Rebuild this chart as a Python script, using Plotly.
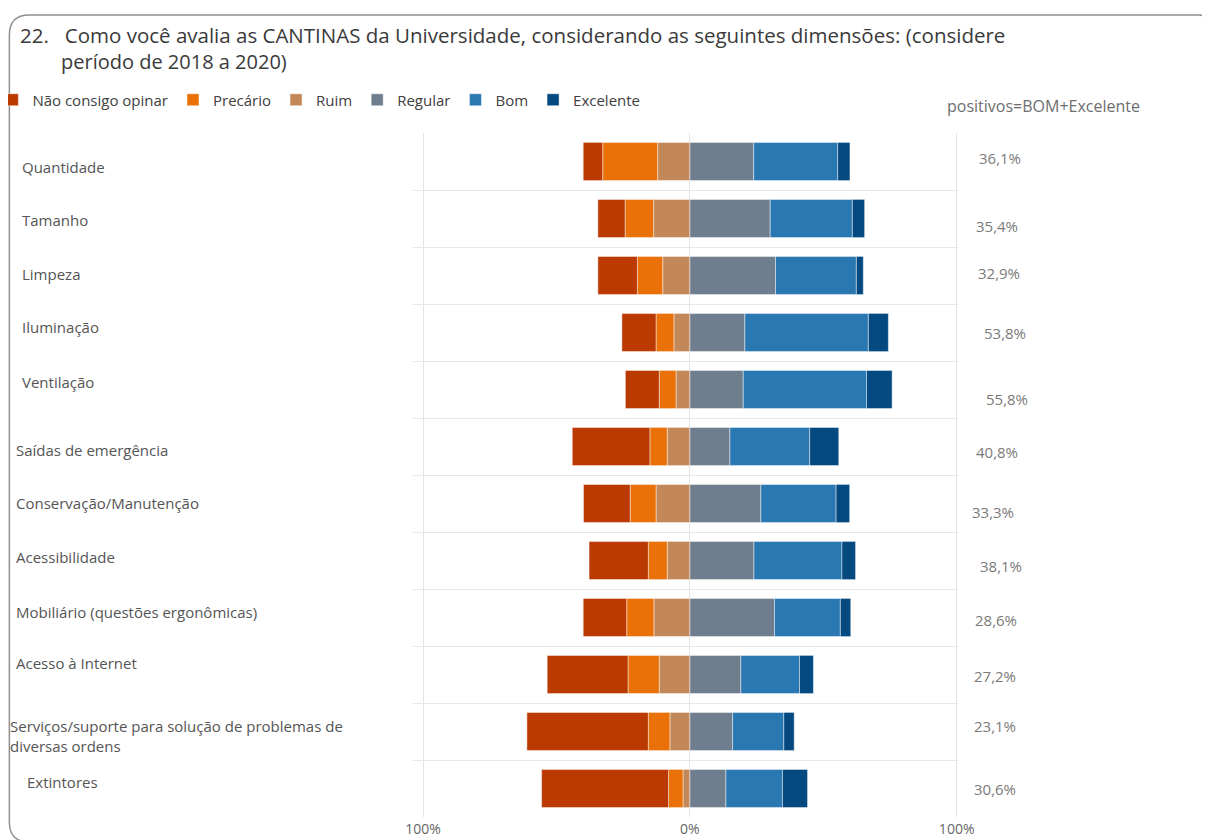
import textwrap
import plotly.graph_objects as go

# ---------------- data ----------------
categories = [
    "Quantidade", "Tamanho", "Limpeza", "Iluminação", "Ventilação",
    "Saídas de emergência", "Conservação/Manutenção", "Acessibilidade",
    "Mobiliário (questões ergonômicas)", "Acesso à Internet",
    "Serviços/suporte para solução de problemas de diversas ordens",
    "Extintores",
]
nao_consigo_opinar = [7.3, 10.2, 14.8, 12.8, 12.7, 29.1, 17.5, 22.2, 16.3, 30.3, 45.5, 47.6]
precario = [20.6, 10.7, 9.5, 6.7, 6.3, 6.5, 9.7, 7.1, 10.2, 11.7, 8.1, 5.4]
ruim = [12.1, 13.6, 10.2, 6.0, 5.2, 8.5, 12.7, 8.5, 13.5, 11.5, 7.5, 2.6]
regular = [23.9, 30.1, 32.1, 20.6, 20.0, 15.0, 26.6, 24.0, 31.7, 19.1, 16.0, 13.5]
bom = [31.5, 30.8, 30.3, 46.3, 46.2, 29.9, 28.2, 33.0, 24.7, 22.0, 19.2, 21.2]
excelente = [4.6, 4.6, 2.6, 7.5, 9.6, 10.9, 5.1, 5.1, 3.9, 5.2, 3.9, 9.4]
positivos = [36.1, 35.4, 32.9, 53.8, 55.8, 40.8, 33.3, 38.1, 28.6, 27.2, 23.1, 30.6]
tick_vals = [-100, 0, 100]
tick_text = ["100%", "0%", "100%"]

# ---------------- styles / layout ----------------
VW, VH = 1210, 840          # browser viewport
OFF = 8                     # default page margin around the figure
W, H = VW - OFF, VH - OFF   # figure size
PL, PR, PT, PB = 413, 957 + 1.5, 133, 817   # plot area edges in viewport pixels
L, R, T, B = PL - OFF, VW - PR, PT - OFF, VH - PB
XR = [-103.8, 100.5]
PW = PR - PL
PH = PB - PT
FONT = "Open Sans"

colors = {
    "Não consigo opinar": "#BA3A02",
    "Precário": "#EA7108",
    "Ruim": "#C38859",
    "Regular": "#6F7E8E",
    "Bom": "#2A78B1",
    "Excelente": "#04497F",
}

# per-row fine placement of the text (viewport pixels; + = right / down)
label_x = [20, 20, 20, 20, 20, 14, 14, 14, 14, 14, 8, 25]
label_dy = [5, 1.5, -2, -5.5, -7.5, 3.5, -0.5, -4, -6, -11.5, 4.5, -6.5]
pct_x = [978, 975, 977, 983, 985, 975, 971, 979, 974, 973, 973, 973]
pct_dy = [-3.5, 7.5, -2.5, 0.5, 9.5, 5.5, 8.5, 5.5, 2.5, 1.5, -5.5, 0.5]


def px_x(px):
    return (px - PL) / PW


def px_y(py):
    return (PB - py) / PH


fig = go.Figure()

bar_line = dict(width=1, color="rgba(255,255,255,0.45)")

negative = [("Ruim", ruim, 3), ("Precário", precario, 2), ("Não consigo opinar", nao_consigo_opinar, 1)]
positive = [("Regular", regular, 4), ("Bom", bom, 5), ("Excelente", excelente, 6)]

for name, vals, rank in negative:
    fig.add_trace(go.Bar(
        y=categories, x=[-v for v in vals], orientation="h", name=name,
        marker=dict(color=colors[name], line=bar_line), legendrank=rank,
        customdata=vals, hovertemplate="%{y}<br>" + name + ": %{customdata:.1f}%<extra></extra>",
    ))
for name, vals, rank in positive:
    fig.add_trace(go.Bar(
        y=categories, x=vals, orientation="h", name=name,
        marker=dict(color=colors[name], line=bar_line), legendrank=rank,
        hovertemplate="%{y}<br>" + name + ": %{x:.1f}%<extra></extra>",
    ))

annotations = []
for i, cat in enumerate(categories):
    annotations.append(dict(
        xref="paper", yref="y", x=px_x(label_x[i]), y=cat, xanchor="left", yanchor="middle",
        text="<br>".join(textwrap.wrap(cat, 47)), align="left", showarrow=False,
        yshift=-label_dy[i], font=dict(family=FONT, size=15, color="#555555"),
    ))
    annotations.append(dict(
        xref="paper", yref="y", x=px_x(pct_x[i]), y=cat, xanchor="left", yanchor="middle",
        text=f"{positivos[i]:.1f}%".replace(".", ","), showarrow=False,
        yshift=-pct_dy[i], font=dict(family=FONT, size=15, color="#7A7A7A"),
    ))

annotations.append(dict(
    xref="paper", yref="paper", x=px_x(945), y=px_y(106), xanchor="left", yanchor="middle",
    text="positivos=BOM+Excelente", showarrow=False,
    font=dict(family=FONT, size=16, color="#6E6E6E"),
))
annotations.append(dict(
    xref="paper", yref="paper", x=px_x(59), y=px_y(62), xanchor="left", yanchor="middle",
    text="período de 2018 a 2020)", showarrow=False,
    font=dict(family=FONT, size=20, color="#3A3A3A"),
))

# frame with rounded corners (viewport pixel coords converted to paper)
pts = [
    ("M", [(29, 842)]), ("Q", [(9, 842), (9, 822)]), ("L", [(9, 35)]),
    ("Q", [(9, 15), (29, 15)]), ("L", [(1200, 15)]), ("Q", [(1206, 15), (1206, 21)]),
]
path = " ".join(cmd + " " + " ".join(f"{px_x(a):.5f},{px_y(b):.5f}" for a, b in p) for cmd, p in pts)

fig.update_layout(
    width=W, height=H, autosize=False,
    margin=dict(l=L, r=R, t=T, b=B, autoexpand=False),
    barmode="relative", bargap=0.33,
    plot_bgcolor="white", paper_bgcolor="white",
    font=dict(family=FONT, color="#404040"),
    title=dict(
        text="22.&nbsp;&nbsp;&nbsp;Como você avalia as CANTINAS da Universidade, considerando as seguintes dimensões: (considere",
        x=(20 - OFF) / W, xref="container", xanchor="left",
        y=1 - (36 - OFF) / H, yref="container", yanchor="middle",
        font=dict(family=FONT, size=20.5, color="#3A3A3A"),
    ),
    legend=dict(
        orientation="h", x=px_x(-8), y=px_y(100), xanchor="left", yanchor="middle",
        font=dict(family=FONT, size=15, color="#404040"), traceorder="normal",
        itemwidth=30, bgcolor="rgba(0,0,0,0)",
    ),
    xaxis=dict(
        range=XR, tickvals=tick_vals, ticktext=tick_text, showgrid=True,
        gridcolor="#E4E4E4", gridwidth=1, zeroline=True, zerolinecolor="#E4E4E4",
        zerolinewidth=1, ticks="", tickfont=dict(family=FONT, size=14, color="#666666"),
        ticklabelstandoff=2, fixedrange=True,
    ),
    yaxis=dict(
        type="category", categoryorder="array", categoryarray=categories,
        range=[len(categories) - 0.5, -0.5], tickson="boundaries", showgrid=True,
        gridcolor="#E8E8E8", gridwidth=1, showticklabels=False, ticks="", zeroline=False,
        fixedrange=True,
    ),
    annotations=annotations,
    shapes=[dict(type="path", xref="paper", yref="paper", path=path,
                 line=dict(color="#8F8F8F", width=1.5), layer="above")],
)

fig.write_html("out.html")
